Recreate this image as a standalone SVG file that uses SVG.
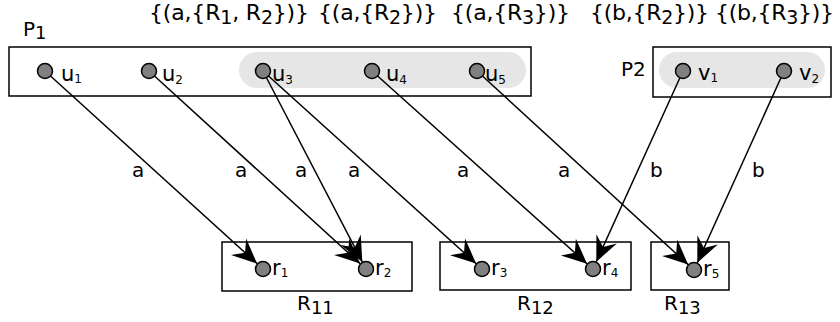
<svg xmlns="http://www.w3.org/2000/svg" width="840" height="322" viewBox="0 0 840 322">
<defs>
<style>
text{font-family:"DejaVu Sans","Liberation Sans",sans-serif;fill:#000}
.top{font-size:22px}
.tsub{font-size:19px}
.big{font-size:20px}
.sub{font-size:18px}
.nl{font-size:21px}
.ns{font-size:12px}
.el{font-size:20px}
.box{fill:#fff;stroke:#000;stroke-width:1.5}
.band{fill:#e6e6e6;stroke:none}
.node{fill:#808080;stroke:#000;stroke-width:1.5}
.edge{fill:none;stroke:#000;stroke-width:1.5;marker-end:url(#arr)}
</style>
<marker id="arr" markerUnits="userSpaceOnUse" orient="auto" refX="0" refY="0" markerWidth="30" markerHeight="30" viewBox="-22 -11 24 22" overflow="visible">
<path d="M0,0 L-20,-9 L-13,0 L-20,9 Z" fill="#000"/>
</marker>
</defs>

<g id="labels-top">
<text class="top" x="149" y="20" textLength="160" lengthAdjust="spacing">{(a,{R<tspan class="tsub" dy="4">1</tspan><tspan dy="-4">, R</tspan><tspan class="tsub" dy="4">2</tspan><tspan dy="-4">})}</tspan></text>
<text class="top" x="318" y="20" textLength="119" lengthAdjust="spacing">{(a,{R<tspan class="tsub" dy="4">2</tspan><tspan dy="-4">})}</tspan></text>
<text class="top" x="451" y="20" textLength="119" lengthAdjust="spacing">{(a,{R<tspan class="tsub" dy="4">3</tspan><tspan dy="-4">})}</tspan></text>
<text class="top" x="590" y="20" textLength="119" lengthAdjust="spacing">{(b,{R<tspan class="tsub" dy="4">2</tspan><tspan dy="-4">})}</tspan></text>
<text class="top" x="715" y="20" textLength="119" lengthAdjust="spacing">{(b,{R<tspan class="tsub" dy="4">3</tspan><tspan dy="-4">})}</tspan></text>
</g>

<g id="P1">
<text class="big" x="23" y="36">P<tspan class="sub" dy="3">1</tspan></text>
<rect class="box" x="9" y="47" width="522" height="49"/>
<rect class="band" x="239" y="52" width="287" height="36" rx="18"/>
</g>
<g id="P2">
<text class="big" x="621" y="76">P2</text>
<rect class="box" x="653" y="47" width="178" height="50"/>
<rect class="band" x="659" y="52" width="166" height="36" rx="18"/>
</g>
<g id="R11">
<rect class="box" x="222" y="242" width="190" height="49"/>
<text class="big" x="297" y="310">R<tspan class="sub" dy="4">11</tspan></text>
</g>
<g id="R12">
<rect class="box" x="440" y="242" width="191" height="48"/>
<text class="big" x="517" y="310">R<tspan class="sub" dy="4">12</tspan></text>
</g>
<g id="R13">
<rect class="box" x="651" y="242" width="78" height="48"/>
<text class="big" x="664" y="310">R<tspan class="sub" dy="4">13</tspan></text>
</g>

<g id="connectors">
<line class="edge" x1="45" y1="71" x2="257.1" y2="263.6"/>
<line class="edge" x1="149" y1="71" x2="360.1" y2="263.6"/>
<line class="edge" x1="263" y1="71" x2="362.3" y2="261.9"/>
<line class="edge" x1="263" y1="71" x2="476.1" y2="263.6"/>
<line class="edge" x1="372" y1="71" x2="587.0" y2="263.7"/>
<line class="edge" x1="477" y1="71" x2="688.1" y2="264.6"/>
<line class="edge" x1="683" y1="71" x2="596.3" y2="261.7"/>
<line class="edge" x1="784" y1="71" x2="697.3" y2="262.7"/>
<text class="el" x="132" y="177">a</text>
<text class="el" x="235" y="177">a</text>
<text class="el" x="295" y="177">a</text>
<text class="el" x="348" y="177">a</text>
<text class="el" x="457" y="177">a</text>
<text class="el" x="558" y="177">a</text>
<text class="el" x="650" y="177">b</text>
<text class="el" x="752" y="177">b</text>
</g>

<g id="u1"><circle class="node" cx="45" cy="71" r="7.5"/><text class="nl" x="61" y="81">u<tspan class="ns" dy="2">1</tspan></text></g>
<g id="u2"><circle class="node" cx="149" cy="71" r="7.5"/><text class="nl" x="162" y="81">u<tspan class="ns" dy="3">2</tspan></text></g>
<g id="u3"><circle class="node" cx="263" cy="71" r="7.5"/><text class="nl" x="272" y="81">u<tspan class="ns" dy="3">3</tspan></text></g>
<g id="u4"><circle class="node" cx="372" cy="71" r="7.5"/><text class="nl" x="386" y="81">u<tspan class="ns" dy="3">4</tspan></text></g>
<g id="u5"><circle class="node" cx="477" cy="71" r="7.5"/><text class="nl" x="485" y="81">u<tspan class="ns" dy="3">5</tspan></text></g>
<g id="v1"><circle class="node" cx="683" cy="71" r="7.5"/><text class="nl" x="698" y="80">v<tspan class="ns" dy="2">1</tspan></text></g>
<g id="v2"><circle class="node" cx="784" cy="71" r="7.5"/><text class="nl" x="799" y="80">v<tspan class="ns" dy="3">2</tspan></text></g>
<g id="r1"><circle class="node" cx="263" cy="269" r="7.5"/><text class="nl" x="272" y="275">r<tspan class="ns" dy="2">1</tspan></text></g>
<g id="r2"><circle class="node" cx="366" cy="269" r="7.5"/><text class="nl" x="375" y="275">r<tspan class="ns" dy="2">2</tspan></text></g>
<g id="r3"><circle class="node" cx="482" cy="269" r="7.5"/><text class="nl" x="491" y="275">r<tspan class="ns" dy="2">3</tspan></text></g>
<g id="r4"><circle class="node" cx="593" cy="269" r="7.5"/><text class="nl" x="602" y="275">r<tspan class="ns" dy="2">4</tspan></text></g>
<g id="r5"><circle class="node" cx="694" cy="270" r="7.5"/><text class="nl" x="703" y="276">r<tspan class="ns" dy="2">5</tspan></text></g>
</svg>
